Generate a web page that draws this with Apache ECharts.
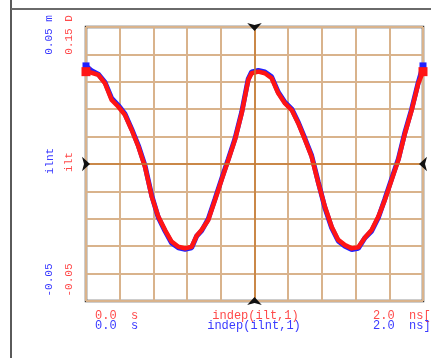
<!DOCTYPE html>
<html>
<head>
<meta charset="utf-8">
<script src="https://cdn.jsdelivr.net/npm/echarts@6/dist/echarts.min.js"></script>
<style>
html,body{margin:0;padding:0;background:#fff;}
#chart{width:431px;height:358px;}
</style>
</head>
<body>
<div id="chart"></div>
<script>
// time in ns
const tNs = [0, 0.034, 0.073, 0.113, 0.152, 0.192, 0.231, 0.271, 0.311, 0.350,
  0.390, 0.429, 0.469, 0.508, 0.548, 0.588, 0.627, 0.657, 0.686, 0.726,
  0.766, 0.805, 0.845, 0.884, 0.924, 0.963, 0.983, 1.023, 1.062, 1.102,
  1.141, 1.181, 1.221, 1.260, 1.300, 1.339, 1.379, 1.418, 1.458, 1.497,
  1.537, 1.577, 1.616, 1.656, 1.695, 1.735, 1.774, 1.814, 1.854, 1.893,
  1.933, 1.972, 2.0];
// red trace ilt
const ilt = [0.0337, 0.0333, 0.0325, 0.0294, 0.0234, 0.0209, 0.0179, 0.0124, 0.0063, -0.0010,
  -0.0119, -0.0192, -0.0241, -0.0283, -0.0302, -0.0308, -0.0302, -0.0262, -0.0241, -0.0204,
  -0.0131, -0.0058, 0.0015, 0.0088, 0.0185, 0.0307, 0.0331, 0.0337, 0.0331, 0.0313,
  0.0258, 0.0221, 0.0197, 0.0148, 0.0088, 0.0027, -0.0071, -0.0156, -0.0229, -0.0277,
  -0.0296, -0.0308, -0.0304, -0.0268, -0.0241, -0.0192, -0.0131, -0.0058, 0.0015, 0.0112,
  0.0197, 0.0294, 0.0337];
// blue trace ilnt
const ilnt = [0.0358, 0.0340, 0.0328, 0.0298, 0.0240, 0.0214, 0.0183, 0.0128, 0.0067, -0.0006,
  -0.0115, -0.0195, -0.0245, -0.0288, -0.0306, -0.0311, -0.0306, -0.0263, -0.0244, -0.0200,
  -0.0127, -0.0054, 0.0019, 0.0092, 0.0189, 0.0311, 0.0336, 0.0341, 0.0336, 0.0318,
  0.0262, 0.0225, 0.0201, 0.0152, 0.0092, 0.0031, -0.0067, -0.0160, -0.0233, -0.0281,
  -0.0300, -0.0312, -0.0308, -0.0269, -0.0245, -0.0196, -0.0127, -0.0054, 0.0019, 0.0116,
  0.0201, 0.0298, 0.0358];

const xMin = 0, xMax = 2, xStep = 0.2;
const yMin = -0.05, yMax = 0.05, yStep = 0.01;

const leftLabelsBlue = ['0.05 m', 'ilnt', '-0.05'];
const leftLabelsRed = ['0.15 D', 'ilt', '-0.05'];
const bottomRed = ['0.0  s', 'indep(ilt,1)', '2.0  ns['];
const bottomBlue = ['0.0  s', 'indep(ilnt,1)', '2.0  ns]'];

const RED = '#ff1414', BLUE = '#2020ff';
const TXT_RED = '#ff4a4a', TXT_BLUE = '#3a3aff';
const FONT = 'Liberation Mono';

function mk(vals, size) {
  const last = vals.length - 1;
  return tNs.map((t, i) => (i === 0 || i === last)
    ? { value: [t, vals[i]], symbol: 'rect', symbolSize: size }
    : [t, vals[i]]);
}

const chart = echarts.init(document.getElementById('chart'), null, { renderer: 'canvas' });

function rotText(x, y, text, color) {
  return { type: 'text', x: x, y: y, rotation: Math.PI / 2,
    style: { text: text, fill: color, font: '11px "' + FONT + '"', align: 'center', verticalAlign: 'middle' } };
}
function hText(x, y, text, color, align) {
  return { type: 'text', x: x, y: y,
    style: { text: text, fill: color, font: '12px "' + FONT + '"', align: align || 'left', verticalAlign: 'middle' } };
}

const option = {
  backgroundColor: '#ffffff',
  animation: false,
  grid: { left: 86, top: 27, right: 8, bottom: 57, show: true, borderColor: '#3a3a3a', borderWidth: 2.5, backgroundColor: 'transparent' },
  xAxis: {
    type: 'value', min: xMin, max: xMax, interval: xStep,
    axisLine: { show: false }, axisTick: { show: false }, axisLabel: { show: false },
    splitLine: { show: true, lineStyle: { color: '#d9b38c', width: 2 } }
  },
  yAxis: {
    type: 'value', min: yMin, max: yMax, interval: yStep,
    axisLine: { show: false }, axisTick: { show: false }, axisLabel: { show: false },
    splitLine: { show: true, lineStyle: { color: '#d9b38c', width: 2 } }
  },
  series: [
    {
      type: 'line', data: [], z: 1, silent: true,
      markLine: {
        silent: true, symbol: 'none', label: { show: false },
        lineStyle: { color: '#c47a32', width: 1.5, type: 'solid' },
        data: [{ xAxis: (xMin + xMax) / 2 }, { yAxis: (yMin + yMax) / 2 }]
      },
      markPoint: {
        silent: true, symbol: 'arrow', label: { show: false },
        itemStyle: { color: '#111' },
        data: [
          { coord: [(xMin + xMax) / 2, yMax], symbolSize: [11, 8], symbolRotate: 180, symbolOffset: [0, 4] },
          { coord: [(xMin + xMax) / 2, yMin], symbolSize: [11, 8], symbolRotate: 0, symbolOffset: [0, -4] },
          { coord: [xMin, (yMin + yMax) / 2], symbolSize: [11, 8], symbolRotate: -90, symbolOffset: [4, 0] },
          { coord: [xMax, (yMin + yMax) / 2], symbolSize: [11, 8], symbolRotate: 90, symbolOffset: [-4, 0] }
        ]
      }
    },
    {
      name: 'ilnt', type: 'line', z: 2, clip: false, symbol: 'none', showSymbol: true, showAllSymbol: true,
      data: mk(ilnt, 7),
      lineStyle: { color: BLUE, width: 5 }, itemStyle: { color: BLUE }
    },
    {
      name: 'ilt', type: 'line', z: 3, clip: false, symbol: 'none', showSymbol: true, showAllSymbol: true,
      data: mk(ilt, 9),
      lineStyle: { color: RED, width: 4.5, join: 'round', cap: 'round' }, itemStyle: { color: RED }
    }
  ],
  graphic: [
    { type: 'line', shape: { x1: 11, y1: 0, x2: 11, y2: 358 }, style: { stroke: '#5a5a5a', lineWidth: 2 } },
    { type: 'line', shape: { x1: 11, y1: 9, x2: 431, y2: 9 }, style: { stroke: '#6a6a6a', lineWidth: 2 } },
    rotText(49, 35, leftLabelsBlue[0], TXT_BLUE),
    rotText(69, 35, leftLabelsRed[0], TXT_RED),
    rotText(50, 161, leftLabelsBlue[1], TXT_BLUE),
    rotText(69, 162, leftLabelsRed[1], TXT_RED),
    rotText(49, 280, leftLabelsBlue[2], TXT_BLUE),
    rotText(69, 280, leftLabelsRed[2], TXT_RED),
    hText(95, 316, bottomRed[0], TXT_RED),
    hText(255.5, 316, bottomRed[1], TXT_RED, 'center'),
    hText(373, 316, bottomRed[2], TXT_RED),
    hText(95, 326, bottomBlue[0], TXT_BLUE),
    hText(254, 326, bottomBlue[1], TXT_BLUE, 'center'),
    hText(373, 326, bottomBlue[2], TXT_BLUE)
  ]
};
chart.setOption(option);
</script>
</body>
</html>
